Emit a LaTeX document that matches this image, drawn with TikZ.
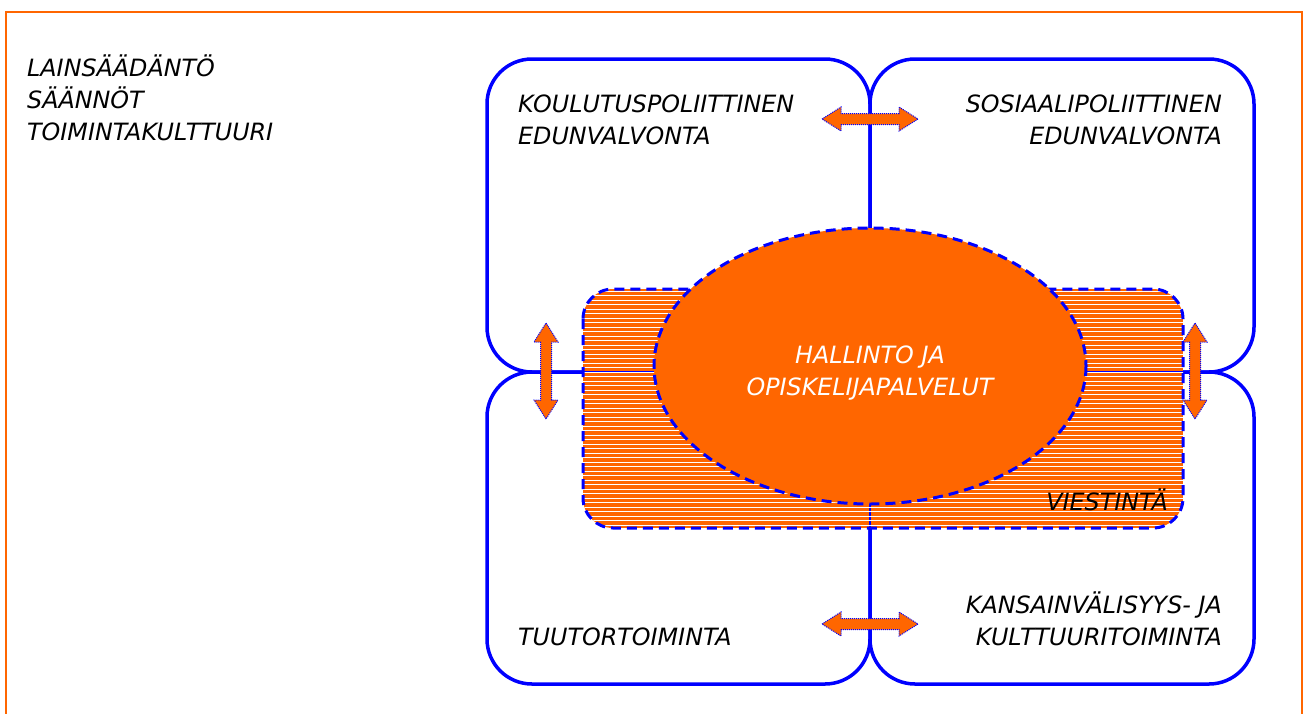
\documentclass[tikz,border=0pt]{standalone}
\usepackage{fontspec}
\setmainfont{DejaVu Sans}
\definecolor{borange}{HTML}{FF6600}
\definecolor{bblue}{HTML}{0000FF}
\begin{document}
\begin{tikzpicture}[x=1pt,y=-1pt,
  box/.style={draw=bblue, line width=3.5pt, rounded corners=45pt},
  dashedblue/.style={draw=bblue, line width=3pt, dash pattern=on 10pt off 6pt},
  dblarrow/.style={fill=borange, draw=bblue, line width=1pt, dash pattern=on 1pt off 1pt},
  lbl/.style={font=\fontsize{23.8}{32}\selectfont\itshape, inner sep=0pt, text=black}]
\useasboundingbox (0,0) rectangle (1303,713);
% outer frame
\draw[draw=borange, line width=2pt] (6,12) rectangle (1302,740);
% four quadrant boxes
\draw[box] (487,59) rectangle (870,372);
\draw[box] (870,59) rectangle (1254,372);
\draw[box] (487,372) rectangle (870,684);
\draw[box] (870,372) rectangle (1254,684);
% hatched communication area
\begin{scope}
  \clip[rounded corners=30pt] (583,289) rectangle (1183,528);
  \fill[borange] (583,289) rectangle (1183,528);
  \draw[bblue, line width=1.5pt] (583,372) -- (1183,372);
  \draw[bblue, line width=1.5pt] (870,372) -- (870,528);
  \foreach \k in {0,...,53} \draw[white, line width=1pt] (580,{291+4.5*\k}) -- (1186,{291+4.5*\k});
\end{scope}
\draw[dashedblue, rounded corners=30pt] (583,289) rectangle (1183,528);
% central ellipse
\filldraw[fill=borange, dashedblue] (870,366) ellipse [x radius=216, y radius=138];
% double arrows
\path[dblarrow, shift={(870,119)}] (-48,0) -- (-29,-12) -- (-29,-5.5) -- (29,-5.5) -- (29,-12) -- (48,0) -- (29,12) -- (29,5.5) -- (-29,5.5) -- (-29,12) -- cycle;
\path[dblarrow, shift={(870,624)}] (-48,0) -- (-29,-12) -- (-29,-5.5) -- (29,-5.5) -- (29,-12) -- (48,0) -- (29,12) -- (29,5.5) -- (-29,5.5) -- (-29,12) -- cycle;
\path[dblarrow, shift={(546,371)}, rotate=90] (-48,0) -- (-29,-12) -- (-29,-5.5) -- (29,-5.5) -- (29,-12) -- (48,0) -- (29,12) -- (29,5.5) -- (-29,5.5) -- (-29,12) -- cycle;
\path[dblarrow, shift={(1195,371)}, rotate=90] (-48,0) -- (-29,-12) -- (-29,-5.5) -- (29,-5.5) -- (29,-12) -- (48,0) -- (29,12) -- (29,5.5) -- (-29,5.5) -- (-29,12) -- cycle;
% texts
\node[lbl, anchor=base west] (l1) at (27,76) {LAINSÄÄDÄNTÖ};
\node[lbl, anchor=base west] (l2) at (27,108) {SÄÄNNÖT};
\node[lbl, anchor=base west] (l3) at (27,140) {TOIMINTAKULTTUURI};
\node[lbl, anchor=base west] (k1) at (518,112) {KOULUTUSPOLIITTINEN};
\node[lbl, anchor=base west] (k2) at (518,144) {EDUNVALVONTA};
\node[lbl, anchor=base east] (s1) at (1222,112) {SOSIAALIPOLIITTINEN};
\node[lbl, anchor=base east] (s2) at (1222,144) {EDUNVALVONTA};
\node[lbl, anchor=base, text=white] (h1) at (870,363) {HALLINTO JA};
\node[lbl, anchor=base, text=white] (h2) at (870,395) {OPISKELIJAPALVELUT};
\node[lbl, anchor=base east] (v1) at (1168,510) {VIESTINTÄ};
\node[lbl, anchor=base west] (t1) at (518,645) {TUUTORTOIMINTA};
\node[lbl, anchor=base east] (ka1) at (1222,613) {KANSAINVÄLISYYS- JA};
\node[lbl, anchor=base east] (ka2) at (1222,645) {KULTTUURITOIMINTA};
\end{tikzpicture}
\end{document}
